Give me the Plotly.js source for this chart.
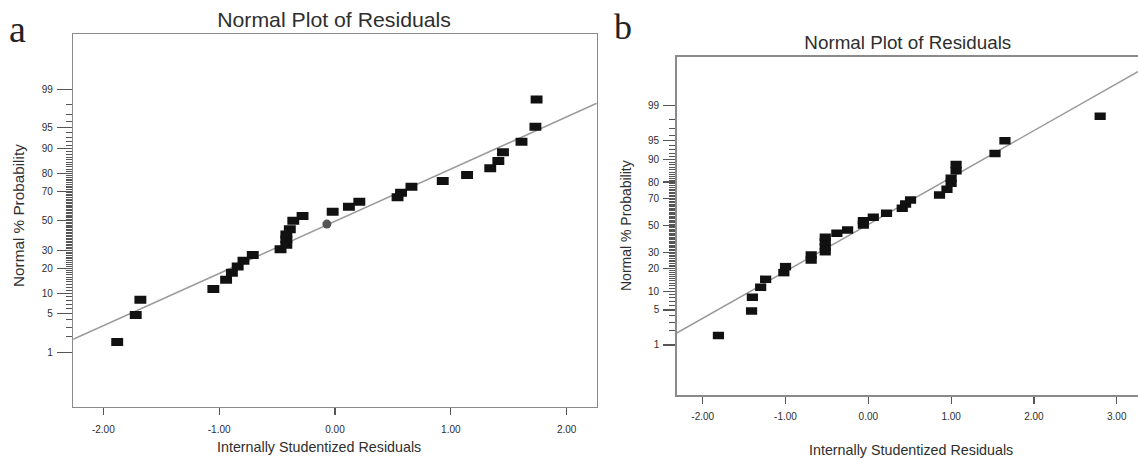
<!DOCTYPE html>
<html><head><meta charset="utf-8">
<script src="https://cdn.plot.ly/plotly-3.0.1.min.js"></script>
<style>html,body{margin:0;padding:0;overflow:hidden;background:#fff}#chart{width:1142px;height:458px}</style>
</head><body><div id="chart"></div>
<script>
// ---------- Panel a ----------
const aResidual = [-1.88, -1.72, -1.68, -1.05, -0.94, -0.89, -0.84, -0.79, -0.71, -0.47, -0.42, -0.42, -0.42, -0.39, -0.36, -0.28, -0.02, 0.12, 0.21, 0.54, 0.57, 0.66, 0.93, 1.14, 1.34, 1.41, 1.45, 1.61, 1.73, 1.74];
const aProbability = [1.6, 4.8, 8.1, 11.4, 14.8, 17.9, 20.9, 24.0, 27.3, 30.7, 33.6, 37.2, 40.5, 44.0, 50.0, 53.4, 56.4, 59.9, 63.2, 66.1, 69.0, 72.7, 75.9, 79.1, 82.4, 85.5, 88.7, 91.9, 95.2, 98.4];
const aCircleResidual = [-0.07];
const aCircleProbability = [47.7];
const aFitResidual = [-2.26, 2.26];
const aFitProbability = [1.80, 98.12];

// ---------- Panel b ----------
const bResidual = [-1.81, -1.41, -1.40, -1.30, -1.24, -1.02, -1.00, -0.69, -0.69, -0.52, -0.52, -0.52, -0.52, -0.38, -0.25, -0.06, -0.06, 0.06, 0.22, 0.41, 0.45, 0.51, 0.86, 0.95, 1.00, 1.00, 1.06, 1.06, 1.53, 1.65, 2.80];
const bProbability = [1.6, 4.8, 8.1, 11.4, 14.7, 17.9, 21.1, 25.0, 28.2, 30.4, 33.9, 37.5, 40.8, 43.8, 46.4, 50.3, 53.6, 56.2, 59.3, 63.0, 66.1, 68.9, 72.2, 75.8, 79.3, 82.0, 85.6, 88.2, 91.9, 95.0, 98.3];
const bFitResidual = [-2.32, 3.30];
const bFitProbability = [1.79, 99.877];

// ---------- Axis labels ----------
const probTickVals = [1, 5, 10, 20, 30, 50, 70, 80, 90, 95, 99];
const probTickText = ['1', '5', '10', '20', '30', '50', '70', '80', '90', '95', '99'];
const aResTickVals = [-2, -1, 0, 1, 2];
const aResTickText = ['-2.00', '-1.00', '0.00', '1.00', '2.00'];
const bResTickVals = [-2, -1, 0, 1, 2, 3];
const bResTickText = ['-2.00', '-1.00', '0.00', '1.00', '2.00', '3.00'];

const titleText = 'Normal Plot of Residuals';
const yTitleText = 'Normal % Probability';
const xTitleText = 'Internally Studentized Residuals';

// inverse standard normal CDF (Acklam) -> normal probability scale
function probit(pct) {
  const p = pct / 100;
  const a = [-3.969683028665376e+01, 2.209460984245205e+02, -2.759285104469687e+02, 1.383577518672690e+02, -3.066479806614716e+01, 2.506628277459239e+00];
  const b = [-5.447609879822406e+01, 1.615858368580409e+02, -1.556989798598866e+02, 6.680131188771972e+01, -1.328068155288572e+01];
  const c = [-7.784894002430293e-03, -3.223964580411365e-01, -2.400758277161838e+00, -2.549732539343734e+00, 4.374664141464968e+00, 2.938163982698783e+00];
  const d = [7.784695709041462e-03, 3.224671290700398e-01, 2.445134137142996e+00, 3.754408661907416e+00];
  const pl = 0.02425, ph = 1 - pl;
  let q, r;
  if (p < pl) { q = Math.sqrt(-2 * Math.log(p)); return (((((c[0]*q+c[1])*q+c[2])*q+c[3])*q+c[4])*q+c[5]) / ((((d[0]*q+d[1])*q+d[2])*q+d[3])*q+1); }
  if (p <= ph) { q = p - 0.5; r = q*q; return (((((a[0]*r+a[1])*r+a[2])*r+a[3])*r+a[4])*r+a[5])*q / (((((b[0]*r+b[1])*r+b[2])*r+b[3])*r+b[4])*r+1); }
  q = Math.sqrt(-2 * Math.log(1 - p));
  return -(((((c[0]*q+c[1])*q+c[2])*q+c[3])*q+c[4])*q+c[5]) / ((((d[0]*q+d[1])*q+d[2])*q+d[3])*q+1);
}
const toZ = arr => arr.map(probit);

const minorVals = [];
for (let i = 2; i <= 98; i++) if (!probTickVals.includes(i)) minorVals.push(probit(i));

const W = 1142, H = 458;
const px = v => v / W, py = v => 1 - v / H;
const frameColor = '#8a8a8a';
const textColor = '#2e2e2e';
const fitColor = '#9a9a9a';
const sans = 'Liberation Sans, Arial, sans-serif';

// rectangular markers drawn as thick horizontal bars
const barMarker = (w, h) => ({symbol: 'line-ew', size: w, color: '#111', line: {color: '#111', width: h}});

const traces = [
  {x: aFitResidual, y: toZ(aFitProbability), xaxis: 'x', yaxis: 'y', mode: 'lines', line: {color: fitColor, width: 1.5}, hoverinfo: 'skip'},
  {x: aResidual, y: toZ(aProbability), xaxis: 'x', yaxis: 'y', mode: 'markers', marker: barMarker(8.5, 8)},
  {x: aCircleResidual, y: toZ(aCircleProbability), xaxis: 'x', yaxis: 'y', mode: 'markers', marker: {symbol: 'circle', size: 9, color: '#555', line: {width: 0}}},
  {x: bFitResidual, y: toZ(bFitProbability), xaxis: 'x2', yaxis: 'y2', mode: 'lines', line: {color: fitColor, width: 1.5}, hoverinfo: 'skip'},
  {x: bResidual, y: toZ(bProbability), xaxis: 'x2', yaxis: 'y2', mode: 'markers', marker: barMarker(8, 7.5)}
];

function yAxis(domain, range, len, anchor) {
  return {
    domain: domain, range: range, anchor: anchor, tickmode: 'array', tickvals: toZ(probTickVals), ticktext: probTickText,
    ticks: 'outside', ticklen: len, tickwidth: 1.2, tickcolor: '#555', ticklabelstandoff: 2,
    minor: {tickmode: 'array', tickvals: minorVals, ticks: 'outside', ticklen: 6, tickwidth: 1, tickcolor: '#555', showgrid: false},
    showgrid: false, zeroline: false, showline: true, mirror: true, linecolor: frameColor, linewidth: 1.5,
    tickfont: {family: sans, size: 10, color: textColor}, fixedrange: true
  };
}
function xAxis(domain, range, vals, text, anchor, standoff) {
  return {
    domain: domain, range: range, anchor: anchor, tickmode: 'array', tickvals: vals, ticktext: text,
    ticks: 'outside', ticklen: 7, tickwidth: 1.2, tickcolor: '#555', ticklabelstandoff: standoff,
    showgrid: false, zeroline: false, showline: true, mirror: true, linecolor: frameColor, linewidth: 1.5,
    tickfont: {family: sans, size: 10, color: textColor}, fixedrange: true
  };
}

const ann = (text, x, y, size, opts) => Object.assign({text: text, xref: 'paper', yref: 'paper', x: px(x), y: py(y), xanchor: 'center', yanchor: 'middle', showarrow: false, font: {family: sans, size: size, color: textColor}}, opts || {});

const layout = {
  width: W, height: H, margin: {l: 0, r: 0, t: 0, b: 0}, showlegend: false,
  paper_bgcolor: '#fff', plot_bgcolor: '#fff',
  xaxis: xAxis([px(73.3), px(596.7)], [-2.259, 2.259], aResTickVals, aResTickText, 'y', 6),
  yaxis: yAxis([py(406.7), py(34)], [-3.289, 3.305], 15, 'x'),
  xaxis2: xAxis([px(676.7), px(1140)], [-2.314, 3.281], bResTickVals, bResTickText, 'y2', 4),
  yaxis2: yAxis([py(395), py(56.7)], [-3.299, 3.279], 12, 'x2'),
  annotations: [
    ann('a', 17, 29, 38, {font: {family: 'Liberation Serif, Times New Roman, serif', size: 38, color: '#222'}}),
    ann('b', 623, 27, 36, {font: {family: 'Liberation Serif, Times New Roman, serif', size: 36, color: '#222'}}),
    ann(titleText, 334, 20.5, 20),
    ann(titleText, 908, 42.5, 18.5),
    ann(yTitleText, 18, 216, 15.3, {textangle: -90}),
    ann(yTitleText, 626, 226, 14, {textangle: -90}),
    ann(xTitleText, 319, 447, 14.3),
    ann(xTitleText, 911, 450, 14.3)
  ]
};

Plotly.newPlot('chart', traces, layout, {staticPlot: true, displayModeBar: false}).then(gd => {
  // widen the two panel titles to the measured widths of the reference
  const targets = {2: 234, 3: 207};
  const texts = gd.querySelectorAll('.annotation-text');
  Object.keys(targets).forEach(i => {
    const t = texts[i];
    if (!t) return;
    const w = t.getBBox().width;
    if (w > 0) {
      t.style.transformBox = 'fill-box';
      t.style.transformOrigin = 'center';
      t.style.transform = 'scaleX(' + (targets[i] / w).toFixed(3) + ')';
    }
  });
});
</script>
</body></html>
